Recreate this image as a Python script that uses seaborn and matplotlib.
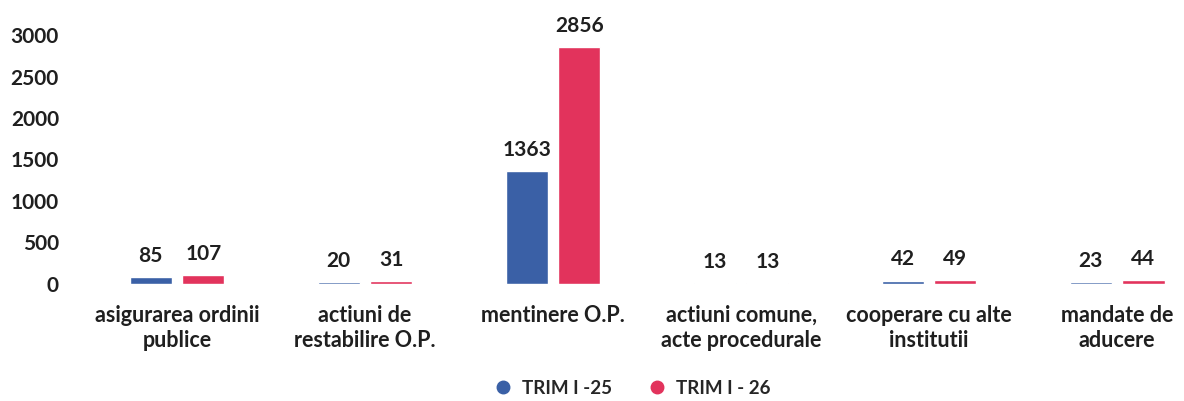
import pandas as pd
import seaborn as sns
import matplotlib.pyplot as plt
from matplotlib.lines import Line2D

# Date
categorii = ["asigurarea ordinii\npublice", "actiuni de\nrestabilire O.P.", "mentinere O.P.",
             "actiuni comune,\nacte procedurale", "cooperare cu alte\ninstitutii", "mandate de\naducere"]
serii = ["TRIM I -25", "TRIM I - 26"]
trim_25 = [85, 20, 1363, 13, 42, 23]
trim_26 = [107, 31, 2856, 13, 49, 44]
culori = ["#3a60a6", "#e2335c"]

df = pd.DataFrame({
    "categorie": categorii * 2,
    "serie": [serii[0]] * len(categorii) + [serii[1]] * len(categorii),
    "valoare": trim_25 + trim_26,
})

sns.set_theme(style="white")
plt.rcParams['font.family'] = ['Lato', 'DejaVu Sans']

fig = plt.figure(figsize=(11.84, 4.01), dpi=100)
ax = fig.add_axes([0.051, 0.2918, 0.9481, 0.6209])

sns.barplot(data=df, x="categorie", y="valoare", hue="serie", palette=culori,
            saturation=1, width=0.56, gap=0.2, ax=ax, legend=False)

for cont in ax.containers:
    ax.bar_label(cont, fmt="%d", padding=8, fontsize=15, fontweight='bold', color="#1f1f1f")

ax.set_xlim(-0.62, 5.35)
ax.set_ylim(0, 3000)
ax.set_yticks(range(0, 3001, 500))
ax.set_xlabel("")
ax.set_ylabel("")
ax.tick_params(axis='y', labelsize=15, pad=1, length=0)
ax.tick_params(axis='x', labelsize=15.5, pad=15, length=0)
for t in ax.get_yticklabels() + ax.get_xticklabels():
    t.set_fontweight('bold')
    t.set_color("#1f1f1f")
for t in ax.get_xticklabels():
    t.set_linespacing(1.25)
sns.despine(ax=ax, left=True, bottom=True, top=True, right=True)

handles = [Line2D([], [], marker='o', linestyle='', markersize=9, color=c) for c in culori]
ax.legend(handles, serii, loc='lower center', bbox_to_anchor=(0.505, -0.52), ncol=2, frameon=False,
          handletextpad=0.0, columnspacing=1.4, prop={'weight': 'bold', 'size': 13.5})

fig.savefig("out.png", dpi=100)
